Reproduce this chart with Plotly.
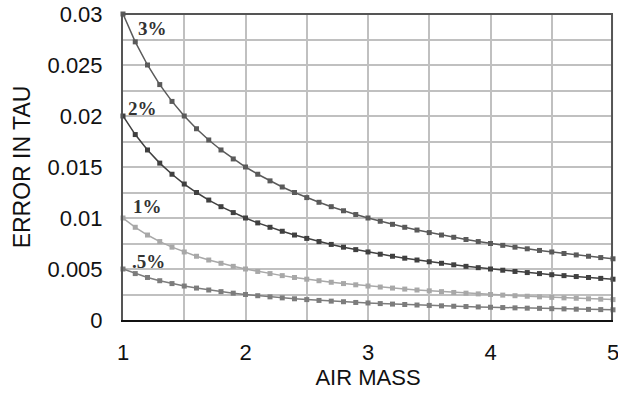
import plotly.graph_objects as go

air_mass = [1.0, 1.1, 1.2, 1.3, 1.4, 1.5, 1.6, 1.7, 1.8, 1.9,
            2.0, 2.1, 2.2, 2.3, 2.4, 2.5, 2.6, 2.7, 2.8, 2.9,
            3.0, 3.1, 3.2, 3.3, 3.4, 3.5, 3.6, 3.7, 3.8, 3.9,
            4.0, 4.1, 4.2, 4.3, 4.4, 4.5, 4.6, 4.7, 4.8, 4.9, 5.0]

err_3pct = [0.0300, 0.02727, 0.02500, 0.02308, 0.02143, 0.02000, 0.01875, 0.01765, 0.01667, 0.01579,
            0.01500, 0.01429, 0.01364, 0.01304, 0.01250, 0.01200, 0.01154, 0.01111, 0.01071, 0.01034,
            0.01000, 0.00968, 0.00938, 0.00909, 0.00882, 0.00857, 0.00833, 0.00811, 0.00789, 0.00769,
            0.00750, 0.00732, 0.00714, 0.00698, 0.00682, 0.00667, 0.00652, 0.00638, 0.00625, 0.00612, 0.00600]

err_2pct = [0.02000, 0.01818, 0.01667, 0.01538, 0.01429, 0.01333, 0.01250, 0.01176, 0.01111, 0.01053,
            0.01000, 0.00952, 0.00909, 0.00870, 0.00833, 0.00800, 0.00769, 0.00741, 0.00714, 0.00690,
            0.00667, 0.00645, 0.00625, 0.00606, 0.00588, 0.00571, 0.00556, 0.00541, 0.00526, 0.00513,
            0.00500, 0.00488, 0.00476, 0.00465, 0.00455, 0.00444, 0.00435, 0.00426, 0.00417, 0.00408, 0.00400]

err_1pct = [0.01000, 0.00909, 0.00833, 0.00769, 0.00714, 0.00667, 0.00625, 0.00588, 0.00556, 0.00526,
            0.00500, 0.00476, 0.00455, 0.00435, 0.00417, 0.00400, 0.00385, 0.00370, 0.00357, 0.00345,
            0.00333, 0.00323, 0.00313, 0.00303, 0.00294, 0.00286, 0.00278, 0.00270, 0.00263, 0.00256,
            0.00250, 0.00244, 0.00238, 0.00233, 0.00227, 0.00222, 0.00217, 0.00213, 0.00208, 0.00204, 0.00200]

err_05pct = [0.00500, 0.00455, 0.00417, 0.00385, 0.00357, 0.00333, 0.00313, 0.00294, 0.00278, 0.00263,
             0.00250, 0.00238, 0.00227, 0.00217, 0.00208, 0.00200, 0.00192, 0.00185, 0.00179, 0.00172,
             0.00167, 0.00161, 0.00156, 0.00152, 0.00147, 0.00143, 0.00139, 0.00135, 0.00132, 0.00128,
             0.00125, 0.00122, 0.00119, 0.00116, 0.00114, 0.00111, 0.00109, 0.00106, 0.00104, 0.00102, 0.00100]

series_names = ["3%", "2%", "1%", ".5%"]
series_values = [err_3pct, err_2pct, err_1pct, err_05pct]
series_colors = ["#5a5a5a", "#404040", "#a8a8a8", "#7c7c7c"]
label_x = [1.24, 1.16, 1.2, 1.21]
label_y = [0.0286, 0.0207, 0.0111, 0.0057]

x_tick_vals = [1, 2, 3, 4, 5]
x_tick_text = ["1", "2", "3", "4", "5"]
y_tick_vals = [0, 0.005, 0.01, 0.015, 0.02, 0.025, 0.03]
y_tick_text = ["0", "0.005", "0.01", "0.015", "0.02", "0.025", "0.03"]

fig = go.Figure()
for name, vals, col in zip(series_names, series_values, series_colors):
    fig.add_trace(go.Scatter(
        x=air_mass, y=vals, mode="lines+markers", name=name,
        line=dict(color=col, width=1.5),
        marker=dict(symbol="square", size=5, color=col),
        showlegend=False, cliponaxis=False,
    ))

for name, lx, ly in zip(series_names, label_x, label_y):
    fig.add_annotation(x=lx, y=ly, text="<b>" + name + "</b>", showarrow=False,
                       font=dict(family="Liberation Serif, Times New Roman, serif", size=19, color="#333"))

fig.update_layout(
    width=618, height=396,
    margin=dict(l=123, r=5, t=14, b=76, autoexpand=False),
    paper_bgcolor="white", plot_bgcolor="white",
    font=dict(family="Liberation Sans, Arial, sans-serif", size=22, color="#111"),
)
fig.update_xaxes(
    range=[1, 5], tickvals=x_tick_vals, ticktext=x_tick_text,
    showgrid=True, gridcolor="#c0c0c0", gridwidth=1.5,
    minor=dict(dtick=0.5, showgrid=True, gridcolor="#c0c0c0", gridwidth=1.5),
    showline=True, linecolor="#111", linewidth=1.5, mirror=False,
    zeroline=False, ticks="", ticklabelstandoff=12, ticklabeloverflow="allow",
    automargin=False,
    title=dict(text="AIR MASS", font=dict(size=22), standoff=4),
)
fig.update_yaxes(
    range=[0, 0.03], tickvals=y_tick_vals, ticktext=y_tick_text,
    showgrid=True, gridcolor="#c0c0c0", gridwidth=1.5,
    minor=dict(dtick=0.0025, showgrid=True, gridcolor="#c0c0c0", gridwidth=1.5),
    showline=True, linecolor="#555", linewidth=2, mirror=False,
    zeroline=False, ticks="", ticklabelstandoff=14, ticklabeloverflow="allow",
    automargin=False,
    title=dict(text="ERROR IN TAU", font=dict(size=23), standoff=10),
)
# frame top and right
fig.add_shape(type="line", xref="paper", yref="paper", x0=0, x1=1, y0=1, y1=1,
              line=dict(color="#555", width=2))
fig.add_shape(type="line", xref="paper", yref="paper", x0=0.998, x1=0.998, y0=0, y1=1,
              line=dict(color="#555", width=2))

fig.write_html("out.html", config={"displayModeBar": False},
               post_script="document.body.style.margin='0';document.body.style.overflow='hidden';")
